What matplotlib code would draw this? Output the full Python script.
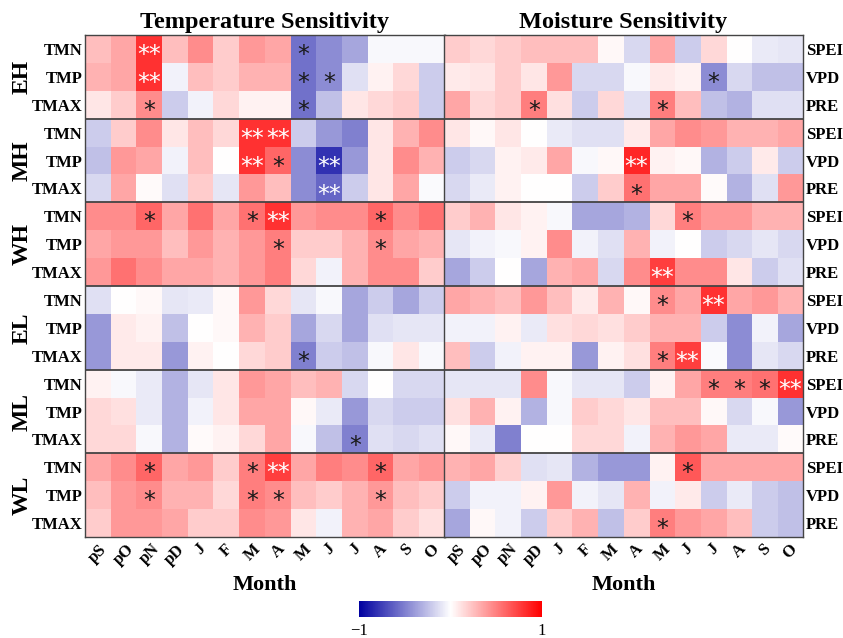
import numpy as np
import matplotlib
matplotlib.use('Agg')
import matplotlib.pyplot as plt
from matplotlib.colors import LinearSegmentedColormap

plt.rcParams['font.family'] = ['Liberation Serif', 'DejaVu Serif']

months = ['pS', 'pO', 'pN', 'pD', 'J', 'F', 'M', 'A', 'M', 'J', 'J', 'A', 'S', 'O']
groups = ['EH', 'MH', 'WH', 'EL', 'ML', 'WL']
temp_vars = ['TMN', 'TMP', 'TMAX']
moist_vars = ['SPEI', 'VPD', 'PRE']

# temperature sensitivity (rows: TMN, TMP, TMAX)
temp_EH = [[0.25, 0.35, 0.8, 0.25, 0.45, 0.2, 0.4, 0.35, -0.55, -0.45, -0.35, -0.03, -0.03, -0.03],
           [0.3, 0.35, 0.8, -0.05, 0.25, 0.2, 0.3, 0.3, -0.55, -0.45, -0.12, 0.05, 0.15, -0.2],
           [0.1, 0.2, 0.45, -0.2, -0.05, 0.15, 0.05, 0.05, -0.55, -0.25, 0.1, 0.15, 0.2, -0.2]]
temp_MH = [[-0.2, 0.2, 0.45, 0.1, 0.25, 0.15, 0.8, 0.8, -0.2, -0.4, -0.5, 0.1, 0.3, 0.45],
           [-0.25, 0.4, 0.35, -0.05, 0.25, 0.0, 0.8, 0.6, -0.45, -0.8, -0.4, 0.1, 0.45, 0.3],
           [-0.15, 0.35, 0.02, -0.12, 0.2, -0.1, 0.4, 0.25, -0.45, -0.6, -0.2, 0.1, 0.35, -0.02]]
temp_WH = [[0.45, 0.45, 0.6, 0.35, 0.55, 0.35, 0.55, 0.8, 0.4, 0.45, 0.45, 0.6, 0.45, 0.55],
           [0.35, 0.4, 0.4, 0.25, 0.4, 0.3, 0.4, 0.5, 0.2, 0.2, 0.3, 0.45, 0.35, 0.3],
           [0.4, 0.55, 0.45, 0.35, 0.35, 0.3, 0.4, 0.5, 0.15, -0.05, 0.3, 0.45, 0.45, 0.2]]
temp_EL = [[-0.12, 0.0, 0.03, -0.1, -0.08, 0.03, 0.4, 0.15, -0.1, -0.03, -0.35, -0.2, -0.35, -0.2],
           [-0.4, 0.08, 0.05, -0.25, 0.0, 0.03, 0.3, 0.2, -0.35, -0.15, -0.35, -0.12, -0.1, -0.1],
           [-0.4, 0.08, 0.08, -0.4, 0.05, 0.0, 0.15, 0.2, -0.5, -0.2, -0.25, -0.03, 0.1, -0.03]]
temp_ML = [[0.05, -0.03, -0.08, -0.3, -0.1, 0.1, 0.4, 0.35, 0.25, 0.3, -0.15, 0.0, -0.15, -0.15],
           [0.15, 0.12, -0.08, -0.3, -0.05, 0.1, 0.35, 0.35, 0.03, -0.08, -0.4, -0.15, -0.2, -0.2],
           [0.15, 0.15, -0.03, -0.3, 0.02, 0.05, 0.15, 0.35, -0.03, -0.25, -0.5, -0.12, -0.15, -0.12]]
temp_WL = [[0.35, 0.45, 0.6, 0.35, 0.4, 0.2, 0.5, 0.75, 0.35, 0.5, 0.45, 0.6, 0.35, 0.4],
           [0.25, 0.4, 0.45, 0.3, 0.3, 0.15, 0.5, 0.45, 0.25, 0.2, 0.3, 0.4, 0.25, 0.2],
           [0.2, 0.4, 0.4, 0.35, 0.2, 0.2, 0.45, 0.4, 0.1, -0.05, 0.3, 0.35, 0.2, 0.12]]

# moisture sensitivity (rows: SPEI, VPD, PRE)
moist_EH = [[0.2, 0.15, 0.2, 0.25, 0.25, 0.25, 0.03, -0.15, 0.35, -0.2, 0.15, 0.0, -0.08, -0.1],
            [0.08, 0.1, 0.2, 0.1, 0.4, -0.15, -0.15, -0.03, 0.08, 0.05, -0.45, -0.15, -0.25, -0.25],
            [0.35, 0.15, 0.2, 0.5, 0.12, -0.2, 0.15, -0.12, 0.5, 0.25, -0.25, -0.3, -0.12, -0.12]]
moist_MH = [[0.1, 0.03, 0.1, 0.0, -0.08, -0.12, -0.12, 0.08, 0.35, 0.45, 0.4, 0.3, 0.3, 0.35],
            [-0.2, -0.15, 0.05, 0.08, 0.35, -0.03, 0.03, 0.85, 0.05, 0.03, -0.3, -0.2, 0.08, -0.2],
            [-0.15, -0.08, 0.05, 0.0, 0.0, -0.2, 0.2, 0.55, 0.35, 0.35, 0.02, -0.3, -0.12, 0.4]]
moist_WH = [[0.2, 0.3, 0.1, 0.05, -0.03, -0.35, -0.35, -0.3, 0.15, 0.5, 0.4, 0.4, 0.3, 0.3],
            [-0.1, -0.05, -0.03, 0.05, 0.45, -0.05, -0.12, 0.3, -0.05, 0.0, -0.2, -0.15, -0.1, -0.15],
            [-0.35, -0.2, 0.0, -0.35, 0.3, 0.35, -0.15, 0.45, 0.75, 0.45, 0.45, 0.1, -0.2, -0.12]]
moist_EL = [[0.35, 0.3, 0.25, 0.4, 0.25, 0.08, 0.3, 0.03, 0.45, 0.35, 0.8, 0.35, 0.4, 0.3],
            [-0.05, -0.05, 0.05, -0.08, 0.12, 0.15, 0.12, 0.2, 0.3, 0.3, -0.2, -0.45, -0.05, -0.35],
            [0.25, -0.2, -0.05, 0.05, 0.05, -0.4, 0.05, 0.12, 0.5, 0.75, -0.02, -0.45, -0.1, -0.15]]
moist_ML = [[-0.1, -0.1, -0.1, 0.45, -0.03, -0.1, -0.1, -0.2, 0.05, 0.35, 0.5, 0.5, 0.55, 0.8],
            [0.12, 0.3, 0.05, -0.3, -0.03, 0.2, 0.15, 0.1, 0.25, 0.25, 0.03, -0.15, -0.03, -0.4],
            [0.03, -0.08, -0.5, 0.0, 0.0, 0.15, 0.15, -0.05, 0.3, 0.4, 0.35, -0.08, -0.08, 0.02]]
moist_WL = [[0.3, 0.35, 0.18, -0.12, -0.1, -0.3, -0.4, -0.4, 0.05, 0.65, 0.35, 0.35, 0.35, 0.35],
            [-0.2, -0.05, -0.05, 0.05, 0.4, -0.05, -0.1, 0.3, -0.05, 0.08, -0.2, -0.08, -0.2, -0.25],
            [-0.35, 0.03, -0.05, -0.2, 0.2, 0.3, -0.25, 0.2, 0.5, 0.4, 0.35, 0.25, -0.2, -0.25]]

# significance: (group, variable, month index, level) level 1 = *, 2 = **
temp_sig = [('EH', 'TMN', 2, 2), ('EH', 'TMN', 8, 1),
            ('EH', 'TMP', 2, 2), ('EH', 'TMP', 8, 1), ('EH', 'TMP', 9, 1),
            ('EH', 'TMAX', 2, 1), ('EH', 'TMAX', 8, 1),
            ('MH', 'TMN', 6, 2), ('MH', 'TMN', 7, 2),
            ('MH', 'TMP', 6, 2), ('MH', 'TMP', 7, 1), ('MH', 'TMP', 9, 2),
            ('MH', 'TMAX', 9, 2),
            ('WH', 'TMN', 2, 1), ('WH', 'TMN', 6, 1), ('WH', 'TMN', 7, 2), ('WH', 'TMN', 11, 1),
            ('WH', 'TMP', 7, 1), ('WH', 'TMP', 11, 1),
            ('EL', 'TMAX', 8, 1),
            ('ML', 'TMAX', 10, 1),
            ('WL', 'TMN', 2, 1), ('WL', 'TMN', 6, 1), ('WL', 'TMN', 7, 2), ('WL', 'TMN', 11, 1),
            ('WL', 'TMP', 2, 1), ('WL', 'TMP', 6, 1), ('WL', 'TMP', 7, 1), ('WL', 'TMP', 11, 1)]
moist_sig = [('EH', 'VPD', 10, 1),
             ('EH', 'PRE', 3, 1), ('EH', 'PRE', 8, 1),
             ('MH', 'VPD', 7, 2), ('MH', 'PRE', 7, 1),
             ('WH', 'SPEI', 9, 1), ('WH', 'PRE', 8, 2),
             ('EL', 'SPEI', 8, 1), ('EL', 'SPEI', 10, 2),
             ('EL', 'PRE', 8, 1), ('EL', 'PRE', 9, 2),
             ('ML', 'SPEI', 10, 1), ('ML', 'SPEI', 11, 1), ('ML', 'SPEI', 12, 1), ('ML', 'SPEI', 13, 2),
             ('WL', 'SPEI', 9, 1), ('WL', 'PRE', 8, 1)]

temp_data = np.vstack([temp_EH, temp_MH, temp_WH, temp_EL, temp_ML, temp_WL])
moist_data = np.vstack([moist_EH, moist_MH, moist_WH, moist_EL, moist_ML, moist_WL])

cmap = LinearSegmentedColormap.from_list('bwr2', ['#0000A0', '#FFFFFF', '#FF0000'])
line_col = '#444444'

fig = plt.figure(figsize=(8.43, 6.38), dpi=100)
ax1 = fig.add_axes([0.1008, 0.1583, 0.427, 0.7868])
ax2 = fig.add_axes([0.5267, 0.1583, 0.4259, 0.7868])


def draw_panel(ax, data, sig, varnames, title):
    im = ax.imshow(data, cmap=cmap, vmin=-1, vmax=1, aspect='auto', interpolation='nearest')
    for g in range(1, len(groups)):
        ax.axhline(g * 3 - 0.5, color=line_col, lw=1.3)
    for s in ax.spines.values():
        s.set_color(line_col)
        s.set_linewidth(1.0)
    for grp, var, col, lev in sig:
        row = groups.index(grp) * 3 + varnames.index(var)
        ax.text(col, row + 0.22, '*' * lev, ha='center', va='center', fontsize=17,
                family='DejaVu Sans', color='white' if lev == 2 else '#1a1a1a')
    ax.set_xticks(range(len(months)))
    ax.set_xticklabels(months, rotation=45, fontsize=12, fontweight='bold')
    ax.tick_params(axis='x', length=0, pad=3)
    ax.set_xlabel('Month', fontsize=16, fontweight='bold', labelpad=5)
    ax.set_title(title, fontsize=17.5, fontweight='bold', pad=5)
    return im


im = draw_panel(ax1, temp_data, temp_sig, temp_vars, 'Temperature Sensitivity')
draw_panel(ax2, moist_data, moist_sig, moist_vars, 'Moisture Sensitivity')

rows = np.arange(len(groups) * 3)
ax1.set_yticks(rows)
ax1.set_yticklabels(temp_vars * len(groups), fontsize=12, fontweight='bold')
ax1.tick_params(axis='y', length=0, pad=2)
ax2.set_yticks(rows)
ax2.yaxis.tick_right()
ax2.set_yticklabels(moist_vars * len(groups), fontsize=12, fontweight='bold')
ax2.tick_params(axis='y', length=0, pad=2)

for i, g in enumerate(groups):
    ax1.text(-0.175, 1 - (i * 3 + 1.5) / 18, g, transform=ax1.transAxes, rotation=90,
             ha='center', va='center', fontsize=17, fontweight='bold')

cax = fig.add_axes([0.4259, 0.0329, 0.217, 0.025])
cb = fig.colorbar(im, cax=cax, orientation='horizontal', ticks=[-1, 1])
cb.outline.set_visible(False)
cb.ax.tick_params(length=0, labelsize=12, pad=4)
cb.ax.set_xticklabels(['\u22121', '1'])

fig.savefig('out.png', dpi=100)
